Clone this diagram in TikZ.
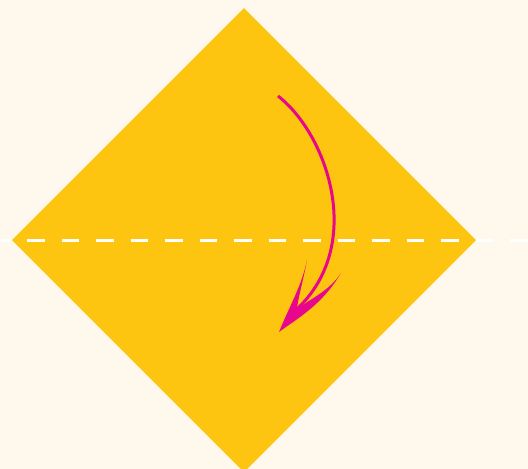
\documentclass[tikz,border=0pt]{standalone}
\usetikzlibrary{calc}
\definecolor{paper}{HTML}{FEF9EC}
\definecolor{fold}{HTML}{FDC50F}
\definecolor{pink}{HTML}{E8078C}

\begin{document}
\begin{tikzpicture}[x=1pt,y=-1pt]
  % sheet and page
  \fill[paper] (0,0) rectangle (528,469);
  \useasboundingbox (0,0) rectangle (528,469);
  \clip (0,0) rectangle (528,469);
  \fill[fold] (244,8) -- (476,240) -- (244,472) -- (12,240) -- cycle;
  % valley fold line
  \draw[white,line width=3pt,dash pattern=on 17.5pt off 17pt]
    (-7.5,240) -- (530,240);
  % fold arrow
  \coordinate (start) at (278,96);
  \coordinate (notch) at (297,309);
  \coordinate (tip) at (279,332);
  \coordinate (lbarb) at (307,260);
  \coordinate (rbarb) at (341,273);
  \draw[pink,line width=3pt] (start) .. controls (328,135) and (365,245) .. (notch);
  \fill[pink] (tip) .. controls (290,305) and (302,285) .. (lbarb)
    .. controls (303,282) and (298,298) .. (notch)
    .. controls (312,298) and (330,290) .. (rbarb)
    .. controls (322,305) and (298,318) .. cycle;
\end{tikzpicture}
\end{document}
